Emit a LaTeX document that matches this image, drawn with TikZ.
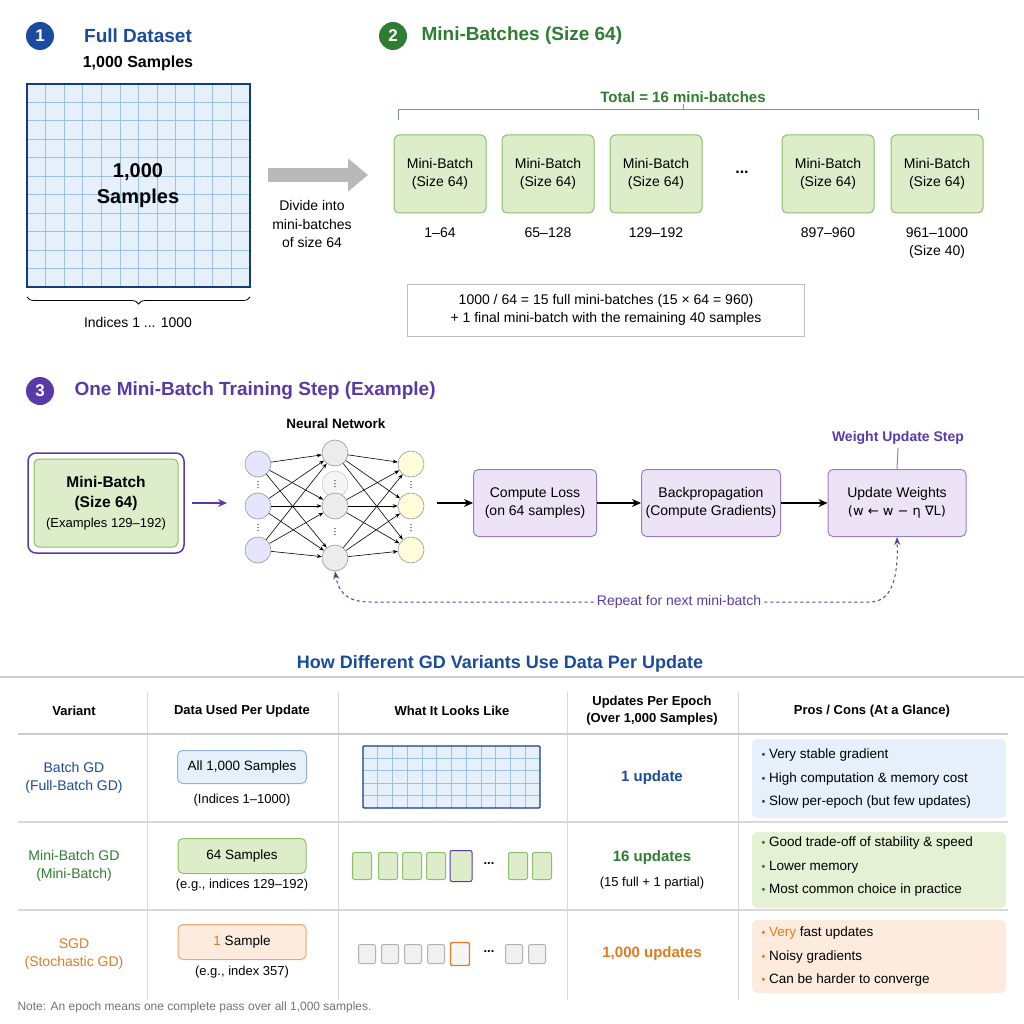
\documentclass[tikz,border=0pt]{standalone}
\usepackage{fontspec}
\setmainfont{Liberation Sans}
\newfontfamily\dejavu{DejaVu Sans}
\usetikzlibrary{arrows.meta,decorations.pathreplacing,calc}
\definecolor{cblue}{HTML}{1A4B9C}
\definecolor{cgreen}{HTML}{2E7D32}
\definecolor{cpurple}{HTML}{5B3AA8}
\definecolor{corange}{HTML}{E07B24}
\definecolor{gfill}{HTML}{DDEDC9}
\definecolor{gline}{HTML}{8BBF6A}
\definecolor{pfill}{HTML}{ECE4F6}
\definecolor{pline}{HTML}{9C7CC8}
\definecolor{bfill}{HTML}{E6F0FA}
\definecolor{bline}{HTML}{8FB3DA}
\definecolor{ofill}{HTML}{FDEBDD}
\definecolor{oline}{HTML}{F0A36A}
\definecolor{gridc}{HTML}{9CC0E6}
\newcommand{\fs}[1]{\fontsize{#1pt}{1.3\dimexpr#1pt\relax}\selectfont}
\begin{document}
\begin{tikzpicture}[x=1pt,y=-1pt,
  num/.style={circle,fill=#1,text=white,minimum size=28pt,inner sep=0pt,font=\fs{17}\bfseries},
  head/.style={font=\fs{19}\bfseries,text=#1},
  txt/.style={font=\fs{14},align=center},
  mb/.style={draw=gline,fill=gfill,rounded corners=5pt,line width=1pt,minimum width=92pt,minimum height=78pt,align=center,font=\fs{14}},
  pb/.style={draw=pline,fill=pfill,rounded corners=5pt,line width=1pt,minimum height=67pt,align=center,font=\fs{14}},
  arr/.style={-{Stealth[length=9pt,width=8pt]},line width=1.4pt},
  nn/.style={circle,draw=gray!80,line width=0.6pt,minimum size=26pt,inner sep=0pt,fill=#1},
  sq/.style={draw=#1,rounded corners=2pt,line width=1pt,inner sep=0pt},
  pros/.style={rounded corners=5pt,fill=#1},
  bul/.style={anchor=west,font=\fs{13.5}},
]
\useasboundingbox (0,0) rectangle (1024,1024);
\fill[white] (0,0) rectangle (1024,1024);
% section 1
\node[num=cblue] (n1) at (40,36) {1};
\node[head=cblue] (t1) at (138,36) {Full Dataset};
\node[font=\fs{16}\bfseries] (t1b) at (138,63) {1,000 Samples};
\fill[bfill] (27,84) rectangle (250,287);
\foreach \i in {1,...,11}{\draw[gridc,line width=0.8pt] ({27+\i*18.58},84) -- ({27+\i*18.58},287);}
\foreach \i in {1,...,10}{\draw[gridc,line width=0.8pt] (27,{84+\i*18.45}) -- (250,{84+\i*18.45});}
\draw[cblue!80!black,line width=1.5pt] (27,84) rectangle (250,287);
\node[font=\fs{20}\bfseries,align=center] (ds) at (138,186) {1,000\\Samples};
\draw[decorate,decoration={brace,mirror,amplitude=7pt},line width=0.8pt] (27,297) -- (250,297);
\node[txt] (idx) at (138,322) {Indices 1 ... 1000};
\coordinate (ga) at (268,175); \coordinate (gb) at (368,175);
\draw[-{Triangle[length=20pt,width=32pt]},line width=14pt,gray!55] (ga) -- (gb);
\node[txt] (div) at (312,224) {Divide into\\mini-batches\\of size 64};
% section 2
\node[num=cgreen] (n2) at (393,36) {2};
\node[head=cgreen,anchor=west] (t2) at (418,36) {Mini-Batches (Size 64)};
\node[font=\fs{15}\bfseries,text=cgreen] (tot) at (683,97) {Total = 16 mini-batches};
\draw[cgreen!70,line width=1pt] (398,120) -- (398,110) -- (978,110) -- (978,120) (683,110) -- (683,104);
\foreach \x/\lab [count=\i] in {440/1--64,548/65--128,656/129--192,828/897--960}{
  \node[mb] (m\i) at (\x,174) {Mini-Batch\\(Size 64)};
  \node[txt,anchor=north] (l\i) at (\x,224) {\lab};
}
\node[mb] (m5) at (937,174) {Mini-Batch\\(Size 64)};
\node[txt,anchor=north] (l5) at (937,224) {961--1000\\(Size 40)};
\node[font=\fs{16}\bfseries] (dots) at (742,172) {...};
\node[draw=gray!50,line width=0.8pt,minimum width=397pt,minimum height=52pt,font=\fs{14},align=center] (note) at (606,310) {1000 / 64 = 15 full mini-batches (15 × 64 = 960)\\+ 1 final mini-batch with the remaining 40 samples};
% section 3
\node[num=cpurple] (n3) at (40,391) {3};
\node[head=cpurple,anchor=west] (t3) at (71,391) {One Mini-Batch Training Step (Example)};
\draw[cpurple,line width=1.5pt,rounded corners=8pt] (28,453) rectangle (184,553);
\node[draw=gline,fill=gfill,rounded corners=5pt,line width=1pt,minimum width=144pt,minimum height=88pt,align=center,font=\fs{15.5}] (mbx) at (106,503) {\textbf{Mini-Batch}\\\textbf{(Size 64)}\\{\fs{13}(Examples 129--192)}};
\coordinate (pa) at (192,503); \coordinate (pb) at (227,503);
\draw[arr,cpurple] (pa) -- (pb);
\node[font=\fs{13.5}\bfseries] (nnl) at (336,424) {Neural Network};
\node[nn=blue!10] (i1) at (258,464) {}; \node[nn=blue!10] (i2) at (258,506) {}; \node[nn=blue!10] (i3) at (258,550) {};
\node[nn=gray!15,opacity=0.5] (h0) at (335,484) {};
\node[nn=gray!15] (h1) at (335,453) {}; \node[nn=gray!15] (h2) at (335,506) {}; \node[nn=gray!15] (h3) at (335,558) {};
\node[nn=yellow!15] (o1) at (411,464) {}; \node[nn=yellow!15] (o2) at (411,506) {}; \node[nn=yellow!15] (o3) at (411,550) {};
\foreach \a in {i1,i2,i3}{\foreach \b in {h1,h2,h3}{\draw[-{Stealth[length=5pt]},line width=0.6pt] (\a) -- (\b);}}
\foreach \a in {h1,h2,h3}{\foreach \b in {o1,o2,o3}{\draw[-{Stealth[length=5pt]},line width=0.6pt] (\a) -- (\b);}}
\foreach \y in {485,528}{\node[font=\fs{10}] at (258,\y) {\rotatebox{90}{...}}; \node[font=\fs{10}] at (411,\y) {\rotatebox{90}{...}};}
\node[font=\fs{10}] at (335,484) {\rotatebox{90}{...}};
\node[font=\fs{10}] at (335,532) {\rotatebox{90}{...}};
\node[pb,minimum width=123pt] (cl) at (535,503) {Compute Loss\\(on 64 samples)};
\node[pb,minimum width=139pt] (bp) at (711,503) {Backpropagation\\(Compute Gradients)};
\node[pb,minimum width=138pt] (uw) at (897,503) {Update Weights\\{\dejavu\fs{13}(w ← w − η ∇L)}};
\coordinate (na) at (437,503);
\draw[arr] (na) -- (cl.west);
\draw[arr] (cl) -- (bp);
\draw[arr] (bp) -- (uw);
\node[font=\fs{14}\bfseries,text=cpurple] (wus) at (898,438) {Weight Update Step};
\draw[pline,line width=1pt] (wus.south) -- (uw.north);
\node[font=\fs{14},text=cpurple,fill=white,inner sep=3pt] (rep) at (679,602) {Repeat for next mini-batch};
\draw[cpurple,dashed,line width=1pt,-{Stealth[length=8pt]}] (rep.east) -- (870,602) .. controls (895,602) and (898,570) .. (uw.south);
\draw[cpurple,dashed,line width=1pt,-{Stealth[length=8pt]}] (rep.west) -- (370,602) .. controls (345,602) and (338,590) .. (h3.south);
% table
\node[font=\fs{18}\bfseries,text=cblue] (tt) at (500,664) {How Different GD Variants Use Data Per Update};
\draw[gray!40,line width=1.2pt] (0,677) -- (1024,677);
\foreach \x in {147,338,567,738}{\draw[gray!30,line width=0.8pt] (\x,692) -- (\x,1000);}
\draw[gray!40,line width=1.5pt] (18,734) -- (1008,734);
\draw[gray!30,line width=1.5pt] (18,822) -- (1008,822) (18,910) -- (1008,910);
\foreach \x/\t in {74/Variant,242/Data Used Per Update,452/What It Looks Like,652/{Updates Per Epoch\\(Over 1{,}000 Samples)},872/{Pros / Cons (At a Glance)}}{\node[font=\fs{13}\bfseries,align=center] at (\x,711) {\t};}
% row 1
\node[font=\fs{14},text=cblue,align=center] (v1) at (74,778) {Batch GD\\(Full-Batch GD)};
\node[draw=bline,fill=bfill,rounded corners=5pt,line width=1pt,minimum width=129pt,minimum height=33pt,font=\fs{13.5}] (d1) at (242,767) {All 1,000 Samples};
\node[font=\fs{13}] at (242,800) {(Indices 1--1000)};
\fill[bfill] (363,746) rectangle (540,808);
\foreach \i in {1,...,11}{\draw[gridc,line width=0.8pt] ({363+\i*14.75},746) -- ({363+\i*14.75},808);}
\foreach \i in {1,...,4}{\draw[gridc,line width=0.8pt] (363,{746+\i*12.4}) -- (540,{746+\i*12.4});}
\draw[cblue!80!black,line width=1.3pt,rounded corners=1pt] (363,746) rectangle (540,808);
\node[font=\fs{15}\bfseries,text=cblue] at (652,778) {1 update};
\fill[pros=bfill] (752,739) rectangle (1006,818);
\foreach \y/\t in {755/Very stable gradient,779/High computation \& memory cost,802/Slow per-epoch (but few updates)}{\node[bul] at (758,\y) {{\fs{11}\textcolor{cblue}{•}}\ \t};}
% row 2
\node[font=\fs{14},text=cgreen,align=center] (v2) at (74,866) {Mini-Batch GD\\(Mini-Batch)};
\node[draw=gline,fill=gfill,rounded corners=5pt,line width=1pt,minimum width=128pt,minimum height=35pt,font=\fs{13.5}] (d2) at (242,856) {64 Samples};
\node[font=\fs{13}] at (242,885) {(e.g., indices 129--192)};
\foreach \x in {362,388,412,436,518,542}{\node[sq=gline,fill=gfill,minimum width=19pt,minimum height=27pt] at (\x,866) {};}
\node[sq=cpurple,fill=gfill,minimum width=22pt,minimum height=31pt] at (461,866) {};
\node[font=\fs{13}\bfseries] at (489,864) {...};
\node[font=\fs{15}\bfseries,text=cgreen] at (652,858) {16 updates};
\node[font=\fs{13}] at (652,883) {(15 full + 1 partial)};
\fill[pros=gfill!80] (752,832) rectangle (1006,908);
\foreach \y/\t in {843/Good trade-off of stability \& speed,867/Lower memory,890/Most common choice in practice}{\node[bul] at (758,\y) {{\fs{11}\textcolor{cgreen}{•}}\ \t};}
% row 3
\node[font=\fs{14},text=corange,align=center] (v3) at (74,954) {SGD\\(Stochastic GD)};
\node[draw=oline,fill=ofill,rounded corners=5pt,line width=1pt,minimum width=128pt,minimum height=35pt,font=\fs{13.5}] (d3) at (242,942) {\textcolor{corange}{1} Sample};
\node[font=\fs{13}] at (242,972) {(e.g., index 357)};
\foreach \x in {367,390,413,436,514,537}{\node[sq=gray!60,fill=gray!12,minimum width=17pt,minimum height=19pt] at (\x,954) {};}
\node[sq=corange,fill=gray!8,line width=1.4pt,minimum width=19pt,minimum height=23pt] at (460,954) {};
\node[font=\fs{13}\bfseries] at (489,952) {...};
\node[font=\fs{15}\bfseries,text=corange] at (652,954) {1,000 updates};
\fill[pros=ofill] (752,920) rectangle (1006,993);
\foreach \y/\t in {933/\textcolor{corange}{Very} fast updates,957/Noisy gradients,980/Can be harder to converge}{\node[bul] at (758,\y) {{\fs{11}\textcolor{corange}{•}}\ \t};}
\node[font=\fs{12},text=gray!90!black,anchor=west] (fn) at (14,1007) {Note: An epoch means one complete pass over all 1,000 samples.};
\end{tikzpicture}
\end{document}
